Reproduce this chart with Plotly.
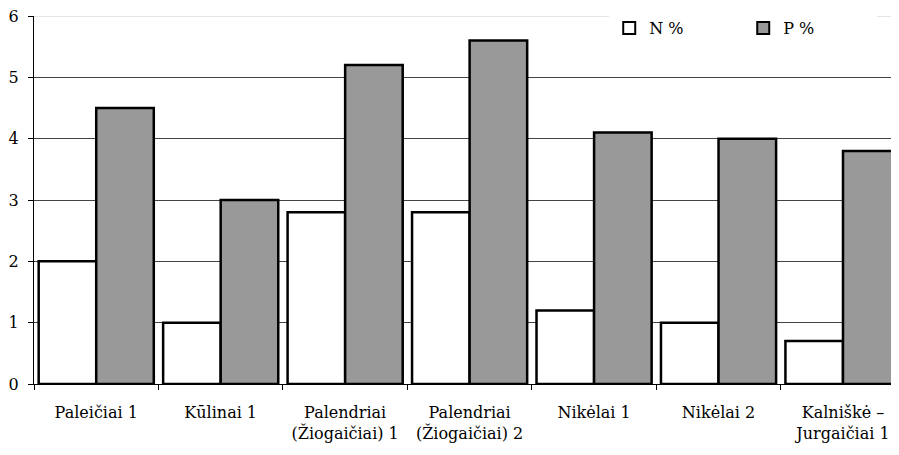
import plotly.graph_objects as go

categories = ["Paleičiai 1", "Kūlinai 1", "Palendriai<br>(Žiogaičiai) 1", "Palendriai<br>(Žiogaičiai) 2",
              "Nikėlai 1", "Nikėlai 2", "Kalniškė –<br>Jurgaičiai 1"]
n_values = [2.0, 1.0, 2.8, 2.8, 1.2, 1.0, 0.7]
p_values = [4.5, 3.0, 5.2, 5.6, 4.1, 4.0, 3.8]
y_ticks = [0, 1, 2, 3, 4, 5, 6]

font_family = "DejaVu Serif"
fs = 16

fig = go.Figure()
fig.add_trace(go.Bar(x=categories, y=n_values, name="N %",
                     marker=dict(color="white", line=dict(color="black", width=2.5))))
fig.add_trace(go.Bar(x=categories, y=p_values, name="P %",
                     marker=dict(color="#999999", line=dict(color="black", width=2.5))))

fig.update_layout(
    width=899, height=455,
    margin=dict(l=26, r=8, t=8, b=79, autoexpand=False),
    paper_bgcolor="white", plot_bgcolor="white",
    barmode="group", bargap=0.075, bargroupgap=0,
    font=dict(family=font_family, size=fs, color="black"),
    legend=dict(orientation="h", x=0.665, y=0.967, xanchor="left", yanchor="middle",
                bgcolor="white", entrywidth=89, entrywidthmode="pixels",
                font=dict(family=font_family, size=fs), itemsizing="constant"),
    shapes=[dict(type="line", xref="paper", yref="y", x0=0, x1=1, y0=6, y1=6,
                 line=dict(color="#cccccc", width=1), layer="below")],
)
fig.update_xaxes(type="category", range=[-0.5, 6.45], showline=True, linecolor="black", linewidth=1,
                 ticks="outside", tickson="boundaries", ticklen=5, tickcolor="black", tickangle=0,
                 ticklabelstandoff=14, ticklabeloverflow="allow",
                 showgrid=False, automargin=False, tickfont=dict(family=font_family, size=fs))
fig.update_yaxes(range=[0, 6], tickvals=y_ticks, showline=True, linecolor="black", linewidth=1,
                 ticks="outside", ticklen=5, tickcolor="black", showgrid=True, gridcolor="#444444",
                 ticklabelstandoff=6, ticklabeloverflow="allow",
                 gridwidth=1, zeroline=False, automargin=False, tickfont=dict(family=font_family, size=fs))

fig.write_html("out.html")
